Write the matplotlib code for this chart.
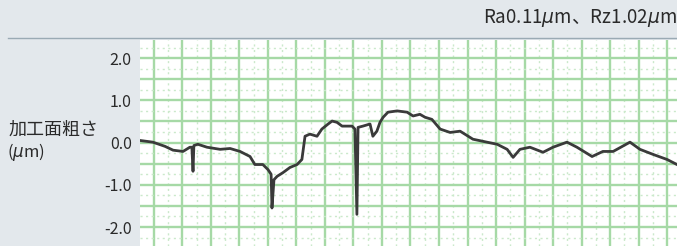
import matplotlib
matplotlib.use('Agg')
import matplotlib.pyplot as plt
import numpy as np

plt.rcParams['font.family'] = ['Noto Sans CJK JP', 'DejaVu Sans']
plt.rcParams['axes.unicode_minus'] = False

# 粗さ曲線（グリッド単位の位置, μm）
pos = [-0.49, -0.04, 0.39, 0.67, 1.02, 1.26, 1.33, 1.37, 1.40, 1.54, 1.86, 2.32,
       2.67, 3.02, 3.37, 3.54, 3.82, 4.00, 4.11, 4.14, 4.21, 4.32, 4.53, 4.77,
       5.02, 5.19, 5.30, 5.47, 5.72, 5.89, 6.11, 6.25, 6.42, 6.60, 6.77, 6.95,
       7.05, 7.12, 7.16, 7.33, 7.58, 7.68, 7.82, 7.93, 8.04, 8.21, 8.53, 8.88,
       9.09, 9.33, 9.51, 9.75, 10.04, 10.39, 10.74, 11.19, 11.68, 12.04, 12.39,
       12.60, 12.84, 13.19, 13.65, 14.00, 14.49, 14.84, 15.37, 15.75, 16.11,
       16.70, 17.05, 17.51, 18.00, 18.35]
height = [0.05, 0.01, -0.09, -0.18, -0.21, -0.11, -0.11, -0.68, -0.07, -0.04,
          -0.11, -0.16, -0.14, -0.21, -0.33, -0.52, -0.52, -0.64, -0.75, -1.55,
          -0.88, -0.80, -0.71, -0.59, -0.52, -0.40, 0.15, 0.20, 0.15, 0.32, 0.44,
          0.51, 0.48, 0.39, 0.39, 0.39, 0.32, -1.70, 0.36, 0.39, 0.44, 0.15, 0.27,
          0.48, 0.60, 0.72, 0.75, 0.72, 0.63, 0.67, 0.60, 0.55, 0.32, 0.24, 0.27,
          0.08, 0.01, -0.04, -0.16, -0.35, -0.16, -0.11, -0.23, -0.11, 0.01,
          -0.11, -0.33, -0.21, -0.21, 0.01, -0.16, -0.28, -0.40, -0.52]
y_ticks = [2.0, 1.0, 0.0, -1.0, -2.0]

W, H = 677, 246
bg = '#e3e8ec'
fig = plt.figure(figsize=(W / 100, H / 100), dpi=100, facecolor=bg)

ax = fig.add_axes([140 / W, 0, (W - 140) / W, (H - 40) / H])
ax.set_facecolor('white')
ax.set_xlim(-0.49, 18.35)
ax.set_ylim(-2.45, 2.43)

# グリッド
for x in np.arange(0, 19, 1.0):
    ax.axvline(x, color='#a6d9a6', lw=1.7, zorder=1)
for x in np.arange(0.5, 18.5, 1.0):
    ax.axvline(x, color='#cbe9cb', lw=1.0, ls=(0, (1.5, 2.5)), zorder=1)
for y in np.arange(-2.0, 2.5, 0.5):
    ax.axhline(y, color='#a6d9a6', lw=1.7, zorder=1)
for y in np.arange(-2.25, 2.5, 0.5):
    ax.axhline(y, color='#cbe9cb', lw=1.0, ls=(0, (1.5, 2.5)), zorder=1)

ax.plot(pos, height, color='#3a3a3a', lw=2.0, zorder=3)

for s in ax.spines.values():
    s.set_visible(False)
ax.set_xticks([])
ax.set_yticks(y_ticks)
ax.set_yticklabels([f'{v:.1f}' for v in y_ticks], fontsize=11.5, color='#2a2a2a')
ax.tick_params(axis='y', length=0, pad=6)

# 区切り線
fig.add_artist(plt.Line2D([8 / W, 1], [1 - 38 / H] * 2, color='#9aaab4', lw=1.0))

fig.text(9 / W, 1 - 130 / H, '加工面粗さ', fontsize=13, color='#2a2a2a',
         ha='left', va='center')
fig.text(7 / W, 1 - 152 / H, '($\\mu$m)', fontsize=12, color='#2a2a2a',
         ha='left', va='center')
fig.text(677 / W, 1 - 18 / H, 'Ra0.11$\\mu$m、Rz1.02$\\mu$m', fontsize=13.5,
         color='#2a2a2a', ha='right', va='center')

fig.savefig('out.png', dpi=100, facecolor=bg)
